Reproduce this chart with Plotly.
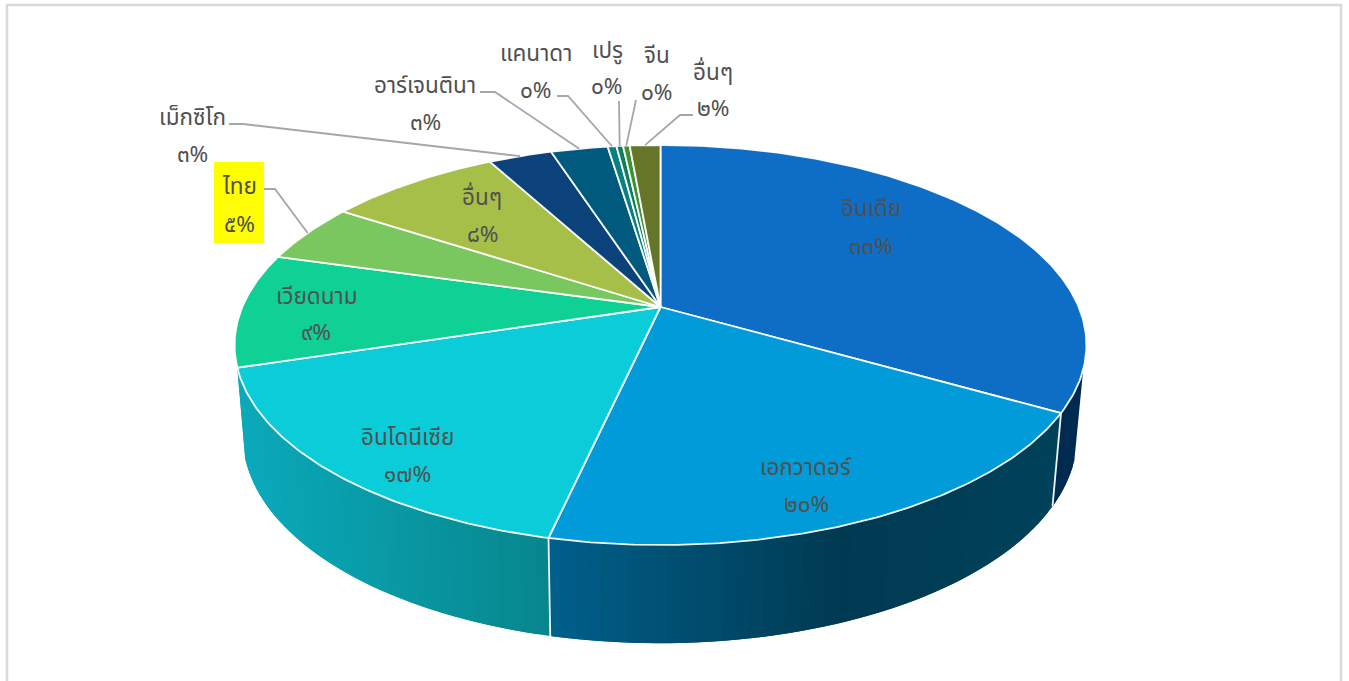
import math
import plotly.graph_objects as go

# ---- data ----
names = ["อินเดีย", "เอกวาดอร์", "อินโดนีเซีย", "เวียดนาม", "ไทย", "อื่นๆ",
         "เม็กซิโก", "อาร์เจนตินา", "แคนาดา", "เปรู", "จีน", "อื่นๆ"]
shares = [33.3, 20.2, 16.7, 9.2, 4.8, 7.9, 2.9, 2.6, 0.4, 0.3, 0.3, 1.4]
pct_labels = ["๓๓%", "๒๐%", "๑๗%", "๙%", "๕%", "๘%", "๓%", "๓%", "๐%", "๐%", "๐%", "๒%"]

# ---- styles ----
top_colors = ["#0e6ec6", "#009bd8", "#0bcdd9", "#0fd095", "#7ac75f", "#a5bf48",
              "#0a4279", "#005a7e", "#0a7f82", "#0c8058", "#3f9130", "#667628"]
wall_colors = {0: [(1085, "#002b50"), (1050, "#002b50")],
               1: [(1053, "#00425a"), (930, "#003d55"), (840, "#003a52"), (552, "#005f8a")],
               2: [(552, "#07868c"), (245, "#0aa9ba")]}
label_xy = [(871, 208), (806, 467), (407, 437), (316, 296), (239, 186), (482, 197),
            (192, 117), (425, 85), (536, 53), (607, 50), (657, 55), (713, 72)]
pct_xy = [(871, 246), (806, 504), (407, 474), (316, 332), (239, 224), (482, 234),
          (192, 154), (425, 122), (536, 90), (607, 86), (657, 92), (713, 108)]
leader_elbows = {4: [(264, 189), (275, 189)], 6: [(229, 124), (243, 124)],
                 7: [(480, 92), (495, 92)], 8: [(557, 96), (568, 96)],
                 9: [(619, 101)], 10: [(636, 100)], 11: [(693, 115), (680, 115)]}
FONT = "Noto Sans, Noto Sans Thai, Leelawadee, Tahoma, sans-serif"
TEXT = "#505050"

# ---- projection of the tilted disc ----
AX, BY, K = 418.2, 192.8, 0.19
APEX = (660.5, 307)
BASE = (660, 403)
S = 0.98
DEPTH_A, DEPTH_B = -8, 15
WALL_START = 107.8


def top(deg):
    t = math.radians(deg)
    s, c = math.sin(t), math.cos(t)
    d = 1 + K * c
    return APEX[0] + AX * s / d, APEX[1] - BY * c / d


def bottom(deg):
    x, y = top(deg)
    extra = DEPTH_A - DEPTH_B * math.cos(math.radians(deg))
    return BASE[0] + S * (x - APEX[0]), BASE[1] + S * (y - APEX[1]) + extra


def hex2rgb(h):
    return [int(h[i:i + 2], 16) for i in (1, 3, 5)]


def wall_color(i, x):
    stops = wall_colors[i]
    for (x0, c0), (x1, c1) in zip(stops, stops[1:]):
        if x1 <= x <= x0:
            f = (x0 - x) / (x0 - x1)
            a, b = hex2rgb(c0), hex2rgb(c1)
            return "rgb(%d,%d,%d)" % tuple(round(a[k] + f * (b[k] - a[k])) for k in range(3))
    return stops[0][1] if x > stops[0][0] else stops[-1][1]


fig = go.Figure()
edges = [0]
for v in shares:
    edges.append(edges[-1] + v * 3.6 * 100 / sum(shares))


def poly(xs, ys, color, line=None, width=0.0):
    fig.add_trace(go.Scatter(x=xs, y=ys, mode="lines", fill="toself", fillcolor=color,
                             line=dict(color=line or color, width=width),
                             hoverinfo="skip", showlegend=False))


# walls: each band runs on under the next one, so no background shows between them
for i in (0, 1, 2):
    a0, a1 = max(edges[i], WALL_START), edges[i + 1]
    n = max(4, int((a1 - a0) / 1.5))
    step = (a1 - a0) / n
    for j in range(n):
        p = a0 + step * j
        q = min(a1, p + 2 * step)
        pts = [p + (q - p) * m / 6 for m in range(7)]
        tp = [top(u) for u in pts]
        bt = [bottom(u) for u in reversed(pts)]
        xs = [u[0] for u in tp + bt]
        ys = [u[1] for u in tp + bt]
        poly(xs + xs[:1], ys + ys[:1], wall_color(i, top(p + step / 2)[0]))

# wall seams
for deg in edges[1:3]:
    (x0, y0), (x1, y1) = top(deg), bottom(deg)
    fig.add_trace(go.Scatter(x=[x0, x1], y=[y0, y1], mode="lines",
                             line=dict(color="#f2f2f2", width=1.8),
                             hoverinfo="skip", showlegend=False))

# top faces
for i, col in enumerate(top_colors):
    a0, a1 = edges[i], edges[i + 1]
    n = max(3, int((a1 - a0) / 0.6))
    pts = [top(a0 + (a1 - a0) * m / n) for m in range(n + 1)]
    xs = [APEX[0]] + [u[0] for u in pts] + [APEX[0]]
    ys = [APEX[1]] + [u[1] for u in pts] + [APEX[1]]
    poly(xs, ys, col, "rgba(255,255,255,0.95)", 1.8)

# leader lines
for i, elbow in leader_elbows.items():
    end = top((edges[i] + edges[i + 1]) / 2)
    fig.add_trace(go.Scatter(x=[u[0] for u in elbow] + [end[0]],
                             y=[u[1] for u in elbow] + [end[1]], mode="lines",
                             line=dict(color="#a6a6a6", width=1.8),
                             hoverinfo="skip", showlegend=False))

# labels
for (x, y), t in list(zip(label_xy, names)) + list(zip(pct_xy, pct_labels)):
    fig.add_annotation(x=x, y=y - 1, text=t, showarrow=False, xanchor="center", yanchor="middle",
                       font=dict(family=FONT, size=22.5, color=TEXT))

shapes = [
    dict(type="rect", x0=214, x1=264, y0=162, y1=243, fillcolor="#ffff00",
         line=dict(width=0), layer="below"),
    dict(type="rect", x0=7, x1=1341, y0=5, y1=720, fillcolor="rgba(0,0,0,0)",
         line=dict(color="#d9d9d9", width=2.5), layer="below"),
]

fig.update_layout(
    width=1349, height=681, margin=dict(l=0, r=0, t=0, b=0),
    paper_bgcolor="white", plot_bgcolor="white", shapes=shapes,
    xaxis=dict(range=[0, 1349], visible=False, fixedrange=True),
    yaxis=dict(range=[681, 0], visible=False, fixedrange=True),
    showlegend=False,
)
fig.write_html("out.html", config=dict(displayModeBar=False),
               post_script="document.body.style.margin='0';document.documentElement.style.overflow='hidden';")
